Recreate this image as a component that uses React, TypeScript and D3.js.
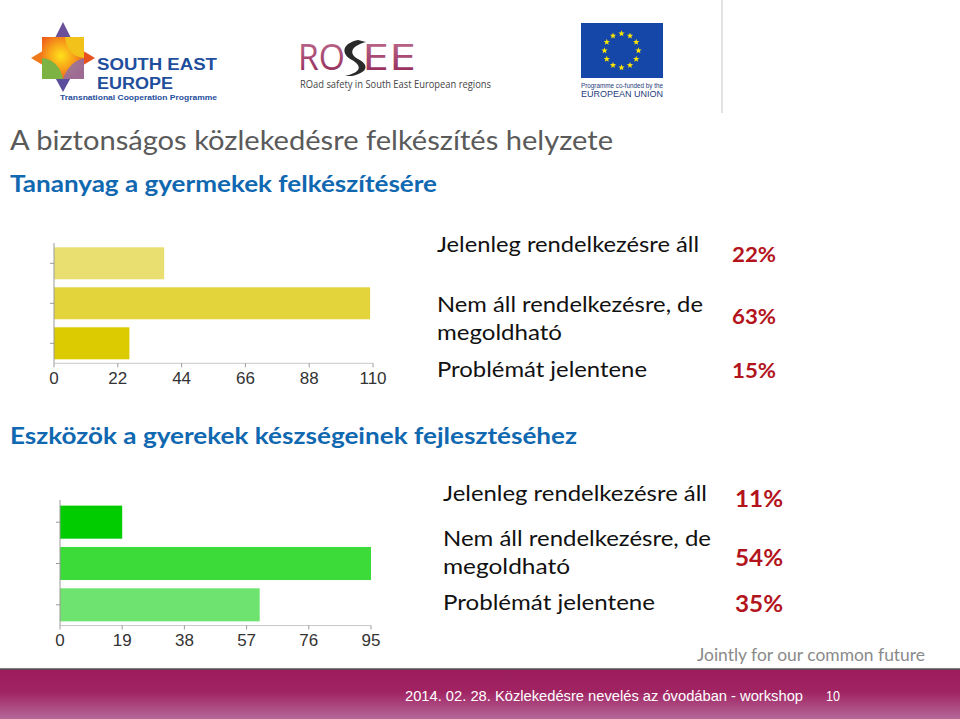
import React from "react";
import * as d3 from "d3";

const W = 960;
const H = 719;

// Chart 1 data: Tananyag a gyermekek felkészítésére
const cats1 = ["Jelenleg rendelkezésre áll", "Nem áll rendelkezésre, de megoldható", "Problémát jelentene"];
const values1 = [38, 109, 26];
const ticks1 = [0, 22, 44, 66, 88, 110];
const pct1 = ["22%", "63%", "15%"];
const colors1 = ["#e9df70", "#e2d43a", "#dccb00"];

// Chart 2 data: Eszközök a gyerekek készségeinek fejlesztéséhez
const cats2 = ["Jelenleg rendelkezésre áll", "Nem áll rendelkezésre, de megoldható", "Problémát jelentene"];
const values2 = [19, 95, 61];
const ticks2 = [0, 19, 38, 57, 76, 95];
const pct2 = ["11%", "54%", "35%"];
const colors2 = ["#00cc00", "#3ddb3a", "#6fe36f"];

const BODY = "Lato, 'Open Sans', sans-serif";
const ARIAL = "'Liberation Sans', Arial, sans-serif";

type ChartProps = {
  cats: string[];
  values: number[];
  ticks: number[];
  colors: string[];
  x0: number;
  x1: number;
  y0: number;
  y1: number;
  axisTop: number;
  labelY: number;
};

function BarChart({ cats, values, ticks, colors, x0, x1, y0, y1, axisTop, labelY }: ChartProps) {
  const x = d3.scaleLinear().domain([0, ticks[ticks.length - 1]]).range([x0, x1]);
  const y = d3.scaleBand<string>().domain(cats).range([y0, y1]).paddingInner(0.2).paddingOuter(0.1);
  return (
    <g>
      {cats.map((c, i) => (
        <rect key={c} x={x(0)} y={y(c)} width={x(values[i]) - x(0)} height={y.bandwidth()} fill={colors[i]} />
      ))}
      <line x1={x0} x2={x0} y1={axisTop} y2={y1} stroke="#9a9a9a" strokeWidth={1} />
      <line x1={x0} x2={x1} y1={y1} y2={y1} stroke="#c8c8c8" strokeWidth={1} />
      {cats.map((c) => {
        const cy = (y(c) as number) + y.bandwidth() / 2;
        return <line key={"t" + c} x1={x0 - 4} x2={x0} y1={cy} y2={cy} stroke="#9a9a9a" strokeWidth={1} />;
      })}
      {ticks.map((t) => (
        <g key={t}>
          <line x1={x(t)} x2={x(t)} y1={y1} y2={y1 + 4} stroke="#9a9a9a" strokeWidth={1} />
          <text x={x(t)} y={labelY} textAnchor="middle" fontFamily={ARIAL} fontSize={17} fill="#333">
            {t}
          </text>
        </g>
      ))}
    </g>
  );
}

function SeeLogo() {
  const cx = 63;
  const cy = 58;
  return (
    <g>
      <defs>
        <radialGradient id="seeg" cx="0.45" cy="0.45" r="0.6">
          <stop offset="0" stopColor="#ffe21a" />
          <stop offset="0.5" stopColor="#f8a21a" />
          <stop offset="1" stopColor="#ee5a1c" />
        </radialGradient>
      </defs>
      <polygon points={`${cx},${cy - 36} ${cx + 12},${cy - 12} ${cx - 12},${cy - 12}`} fill="#6a4f9a" />
      <polygon points={`${cx},${cy + 34} ${cx + 12},${cy + 12} ${cx - 12},${cy + 12}`} fill="#5b4e9c" />
      <polygon points={`${cx - 32},${cy} ${cx - 12},${cy - 12} ${cx - 12},${cy + 12}`} fill="#f07a1a" />
      <polygon points={`${cx + 32},${cy} ${cx + 12},${cy - 12} ${cx + 12},${cy + 12}`} fill="#e8501e" />
      <rect x={cx - 21} y={cy - 21} width={42} height={42} fill="url(#seeg)" />
      <path d={`M${cx - 21},${cy} L${cx - 21},${cy + 21} L${cx},${cy + 21} Q${cx - 4},${cy + 2} ${cx - 21},${cy}`} fill="#7cb342" />
      <path d={`M${cx + 2},${cy - 21} L${cx + 21},${cy - 21} L${cx + 21},${cy} Q${cx + 4},${cy - 2} ${cx + 2},${cy - 21}`} fill="#f2c21a" />
      <path d={`M${cx},${cy + 21} Q${cx + 6},${cy + 4} ${cx + 21},${cy} L${cx + 21},${cy + 21} Z`} fill="#8a6fb0" opacity={0.8} />
      <text x={97} y={70} fontFamily={ARIAL} fontWeight={700} fontSize={16} fill="#1f4e9c" textLength={120} lengthAdjust="spacingAndGlyphs">
        SOUTH EAST
      </text>
      <text x={97} y={89} fontFamily={ARIAL} fontWeight={700} fontSize={16} fill="#1f4e9c" textLength={76} lengthAdjust="spacingAndGlyphs">
        EUROPE
      </text>
      <text x={60} y={100} fontFamily={ARIAL} fontWeight={700} fontSize={7} fill="#1f4e9c" textLength={157} lengthAdjust="spacingAndGlyphs">
        Transnational Cooperation Programme
      </text>
    </g>
  );
}

function RoseeLogo() {
  return (
    <g>
      <defs>
        <linearGradient id="roseeg" x1="0" y1="0" x2="0" y2="1">
          <stop offset="0" stopColor="#c77a9a" />
          <stop offset="1" stopColor="#8c1f4f" />
        </linearGradient>
      </defs>
      <text x={298} y={70} fontFamily={"'Open Sans', sans-serif"} fontSize={37} fill="url(#roseeg)" textLength={47} lengthAdjust="spacingAndGlyphs">
        RO
      </text>
      <path d="M358,40 C340,44 342,55 352,60 C362,66 362,72 345,76 L352,76 C370,72 368,64 358,59 C349,54 350,46 366,42 Z" fill="#2a2a2a" />
      <text x={362} y={70} fontFamily={"'Open Sans', sans-serif"} fontSize={37} fill="url(#roseeg)" textLength={54} lengthAdjust="spacingAndGlyphs">
        EE
      </text>
      <text x={300} y={88} fontFamily={"'Open Sans', sans-serif"} fontSize={10} fill="#444" textLength={191} lengthAdjust="spacingAndGlyphs">
        ROad safety in South East European regions
      </text>
    </g>
  );
}

function EuLogo() {
  const cx = 621.5;
  const cy = 50.5;
  const stars = d3.range(12).map((i) => {
    const a = (i / 12) * Math.PI * 2;
    return [cx + 17 * Math.cos(a), cy + 17 * Math.sin(a)];
  });
  const starPath = (sx: number, sy: number, r: number) => {
    const pts = d3.range(10).map((k) => {
      const a = -Math.PI / 2 + (k * Math.PI) / 5;
      const rr = k % 2 === 0 ? r : r * 0.42;
      return `${sx + rr * Math.cos(a)},${sy + rr * Math.sin(a)}`;
    });
    return "M" + pts.join("L") + "Z";
  };
  return (
    <g>
      <rect x={581} y={23} width={82} height={55} fill="#1447a8" />
      {stars.map(([sx, sy], i) => (
        <path key={i} d={starPath(sx, sy, 3.3)} fill="#ffe600" />
      ))}
      <text x={581} y={88} fontFamily={ARIAL} fontSize={7} fill="#1e3b7a" textLength={82} lengthAdjust="spacingAndGlyphs">
        Programme co-funded by the
      </text>
      <text x={581} y={97} fontFamily={ARIAL} fontSize={8.5} fill="#1e3b7a" textLength={82} lengthAdjust="spacingAndGlyphs">
        EUROPEAN UNION
      </text>
    </g>
  );
}

export default function App() {
  return (
    <svg width={W} height={H} viewBox={`0 0 ${W} ${H}`} style={{ position: "absolute", left: 0, top: 0, background: "#fff" }}>
      <defs>
        <linearGradient id="footg" x1="0" y1="0" x2="0" y2="1">
          <stop offset="0" stopColor="#9c1c5c" />
          <stop offset="0.45" stopColor="#a02362" />
          <stop offset="1" stopColor="#b5689a" />
        </linearGradient>
      </defs>
      <rect x={0} y={0} width={W} height={H} fill="#fff" />

      <SeeLogo />
      <RoseeLogo />
      <EuLogo />
      <line x1={722} x2={722} y1={0} y2={113} stroke="#d9d9d9" strokeWidth={1.5} />

      <text x={10} y={150} fontFamily={BODY} fontSize={26} fill="#5a5a5a" textLength={603} lengthAdjust="spacingAndGlyphs">
        A biztonságos közlekedésre felkészítés helyzete
      </text>
      <text x={10} y={192} fontFamily={BODY} fontWeight={700} fontSize={22} fill="#1068b0" textLength={427} lengthAdjust="spacingAndGlyphs">
        Tananyag a gyermekek felkészítésére
      </text>

      <BarChart cats={cats1} values={values1} ticks={ticks1} colors={colors1} x0={54} x1={373} y0={243.3} y1={363.3} axisTop={243} labelY={384} />

      <text x={437} y={252} fontFamily={BODY} fontSize={21} fill="#111" textLength={262} lengthAdjust="spacingAndGlyphs">
        {cats1[0]}
      </text>
      <text x={437} y={312} fontFamily={BODY} fontSize={21} fill="#111" textLength={266} lengthAdjust="spacingAndGlyphs">
        Nem áll rendelkezésre, de
      </text>
      <text x={437} y={340} fontFamily={BODY} fontSize={21} fill="#111" textLength={125} lengthAdjust="spacingAndGlyphs">
        megoldható
      </text>
      <text x={437} y={377} fontFamily={BODY} fontSize={21} fill="#111" textLength={210} lengthAdjust="spacingAndGlyphs">
        {cats1[2]}
      </text>
      {pct1.map((p, i) => (
        <text key={p} x={732} y={[262, 324, 378][i]} fontFamily={BODY} fontWeight={700} fontSize={21} fill="#b3141c" textLength={44} lengthAdjust="spacingAndGlyphs">
          {p}
        </text>
      ))}

      <text x={10} y={444} fontFamily={BODY} fontWeight={700} fontSize={22} fill="#1068b0" textLength={567} lengthAdjust="spacingAndGlyphs">
        Eszközök a gyerekek készségeinek fejlesztéséhez
      </text>

      <BarChart cats={cats2} values={values2} ticks={ticks2} colors={colors2} x0={60} x1={371} y0={501.5} y1={625.5} axisTop={500} labelY={646} />

      <text x={443} y={501} fontFamily={BODY} fontSize={21} fill="#111" textLength={264} lengthAdjust="spacingAndGlyphs">
        {cats2[0]}
      </text>
      <text x={443} y={546} fontFamily={BODY} fontSize={21} fill="#111" textLength={268} lengthAdjust="spacingAndGlyphs">
        Nem áll rendelkezésre, de
      </text>
      <text x={443} y={574} fontFamily={BODY} fontSize={21} fill="#111" textLength={127} lengthAdjust="spacingAndGlyphs">
        megoldható
      </text>
      <text x={443} y={610} fontFamily={BODY} fontSize={21} fill="#111" textLength={212} lengthAdjust="spacingAndGlyphs">
        {cats2[2]}
      </text>
      {pct2.map((p, i) => (
        <text key={p} x={735} y={[507, 566, 612][i]} fontFamily={BODY} fontWeight={700} fontSize={23} fill="#b3141c" textLength={48} lengthAdjust="spacingAndGlyphs">
          {p}
        </text>
      ))}

      <text x={697} y={661} fontFamily={BODY} fontSize={18} fill="#8a8a8a" textLength={228} lengthAdjust="spacingAndGlyphs">
        Jointly for our common future
      </text>

      <rect x={0} y={669} width={W} height={50} fill="url(#footg)" />
      <line x1={0} x2={W} y1={669} y2={669} stroke="#555" strokeWidth={1.5} />
      <text x={405} y={701} fontFamily={ARIAL} fontSize={15} fill="#fff" textLength={398} lengthAdjust="spacingAndGlyphs">
        2014. 02. 28. Közlekedésre nevelés az óvodában - workshop
      </text>
      <text x={826} y={701} fontFamily={ARIAL} fontSize={15} fill="#fff" textLength={14} lengthAdjust="spacingAndGlyphs">
        10
      </text>
    </svg>
  );
}
